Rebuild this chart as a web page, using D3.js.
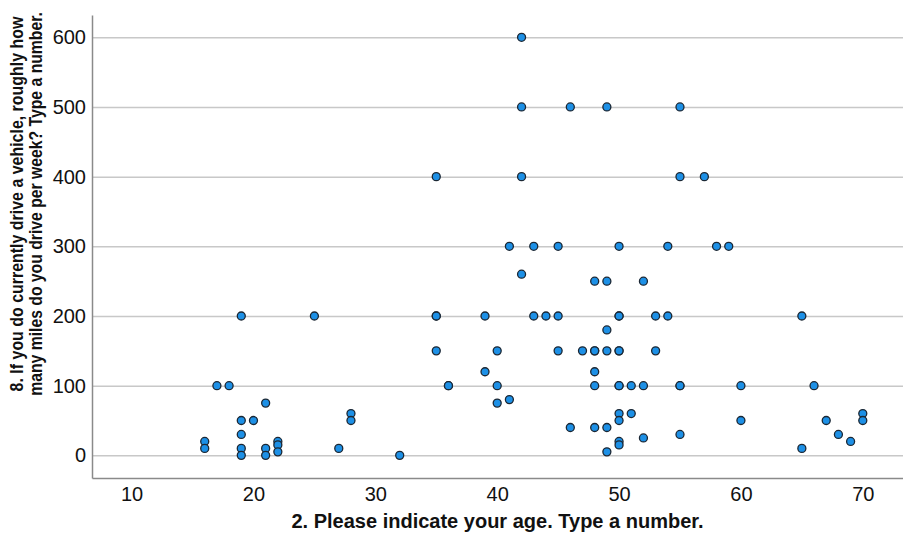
<!DOCTYPE html>
<html>
<head>
<meta charset="utf-8">
<script src="https://cdn.jsdelivr.net/npm/d3@7"></script>
<style>
    body { margin: 0; background: #fff; }
    #chart { width: 903px; height: 533px; }
    text { font-family: Arial, "Liberation Sans", sans-serif; }
</style>
</head>
<body>
<div id="chart"></div>
<script>
// Age of each respondent and miles driven per week (same order)
const ages = [
    16, 16, 17, 18, 19, 19, 19, 19, 19, 20, 21, 21, 21, 22, 22, 22, 25, 27, 28, 28, 32,
    35, 35, 35, 35, 36, 36, 39, 39, 40, 40, 40, 41, 41, 42, 42, 42, 42, 43, 43, 44,
    45, 45, 45, 46, 46, 47, 48, 48, 48, 48, 48, 48, 49, 49, 49, 49, 49, 49,
    50, 50, 50, 50, 50, 50, 50, 50, 50, 50, 50, 51, 51, 52, 52, 52, 53, 53, 54, 54,
    55, 55, 55, 55, 55, 57, 58, 59, 60, 60, 65, 65, 66, 67, 68, 69, 70, 70
];
const miles = [
    20, 10, 100, 100, 200, 50, 30, 10, 0, 50, 75, 10, 0, 20, 15, 5, 200, 10, 60, 50, 0,
    400, 200, 200, 150, 100, 100, 200, 120, 150, 100, 75, 300, 80, 600, 500, 400, 260, 300, 200, 200,
    300, 200, 150, 500, 40, 150, 250, 150, 150, 120, 100, 40, 500, 250, 180, 150, 40, 5,
    300, 200, 200, 150, 150, 100, 100, 60, 50, 20, 15, 100, 60, 250, 100, 25, 200, 150, 300, 200,
    500, 400, 100, 100, 30, 400, 300, 300, 100, 50, 200, 10, 100, 50, 30, 20, 60, 50
];

const xTicks = [10, 20, 30, 40, 50, 60, 70];
const yTicks = [0, 100, 200, 300, 400, 500, 600];

const xTitle = "2. Please indicate your age. Type a number.";
const yTitle = ["8. If you do currently drive a vehicle, roughly how",
                "many miles do you drive per week? Type a number."];

class ScatterVis {

    constructor(parentElement, xs, ys) {
        this.parentElement = parentElement;
        this.data = xs.map((x, i) => ({age: x, miles: ys[i]}));
        this.initVis();
    }

    initVis() {
        let vis = this;

        vis.margin = {top: 15, right: 0, bottom: 55, left: 92};
        vis.width = 903 - vis.margin.left - vis.margin.right;
        vis.height = 533 - vis.margin.top - vis.margin.bottom;

        vis.svg = d3.select("#" + vis.parentElement).append("svg")
            .attr("width", 903)
            .attr("height", 533);

        vis.g = vis.svg.append("g")
            .attr("transform", `translate(${vis.margin.left}, ${vis.margin.top})`);

        // Scales
        vis.x = d3.scaleLinear()
            .domain([6.75, 73.3])
            .range([0, vis.width]);

        vis.y = d3.scaleLinear()
            .domain([-32.5, 632])
            .range([vis.height, 0]);

        // Gridlines
        vis.g.append("g")
            .attr("class", "grid")
            .call(d3.axisLeft(vis.y).tickValues(yTicks).tickSize(-vis.width).tickFormat(""))
            .call(g => g.select(".domain").remove())
            .selectAll("line")
            .attr("stroke", "#c8c8c8")
            .attr("stroke-width", 1.5);

        // Y axis
        vis.g.append("g")
            .attr("class", "axis y-axis")
            .call(d3.axisLeft(vis.y).tickValues(yTicks).tickSize(0).tickPadding(6))
            .call(g => g.select(".domain").attr("stroke", "#8a8a8a").attr("stroke-width", 1.5))
            .selectAll("text")
            .attr("font-size", 20)
            .attr("fill", "#111");

        // X axis
        vis.g.append("g")
            .attr("class", "axis x-axis")
            .attr("transform", `translate(0, ${vis.height})`)
            .call(d3.axisBottom(vis.x).tickValues(xTicks).tickSize(0).tickPadding(9))
            .call(g => g.select(".domain").attr("stroke", "#8a8a8a").attr("stroke-width", 1.5))
            .selectAll("text")
            .attr("font-size", 20)
            .attr("fill", "#111");

        // Axis titles
        vis.svg.append("text")
            .attr("x", vis.margin.left + vis.width / 2)
            .attr("y", 528)
            .attr("text-anchor", "middle")
            .attr("font-size", 20)
            .attr("font-weight", "bold")
            .attr("fill", "#111")
            .text(xTitle);

        // y title lines are squeezed along their length to fit like the original
        const yLens = [375, 384];
        vis.svg.selectAll(".y-title")
            .data(yTitle)
            .enter().append("text")
            .attr("class", "y-title")
            .attr("text-anchor", "middle")
            .attr("font-size", 19)
            .attr("font-weight", "bold")
            .attr("fill", "#111")
            .text(d => d)
            .attr("transform", function(d, i) {
                let k = yLens[i] / this.getComputedTextLength();
                return `translate(${23 + i * 19}, 204) rotate(-90) scale(${k}, 1)`;
            });

        // Points
        vis.g.selectAll(".dot")
            .data(vis.data)
            .enter().append("circle")
            .attr("class", "dot")
            .attr("cx", d => vis.x(d.age))
            .attr("cy", d => vis.y(d.miles))
            .attr("r", 4)
            .attr("fill", "#1d90e6")
            .attr("stroke", "#1c2733")
            .attr("stroke-width", 1.3);
    }
}

new ScatterVis("chart", ages, miles);
</script>
</body>
</html>
